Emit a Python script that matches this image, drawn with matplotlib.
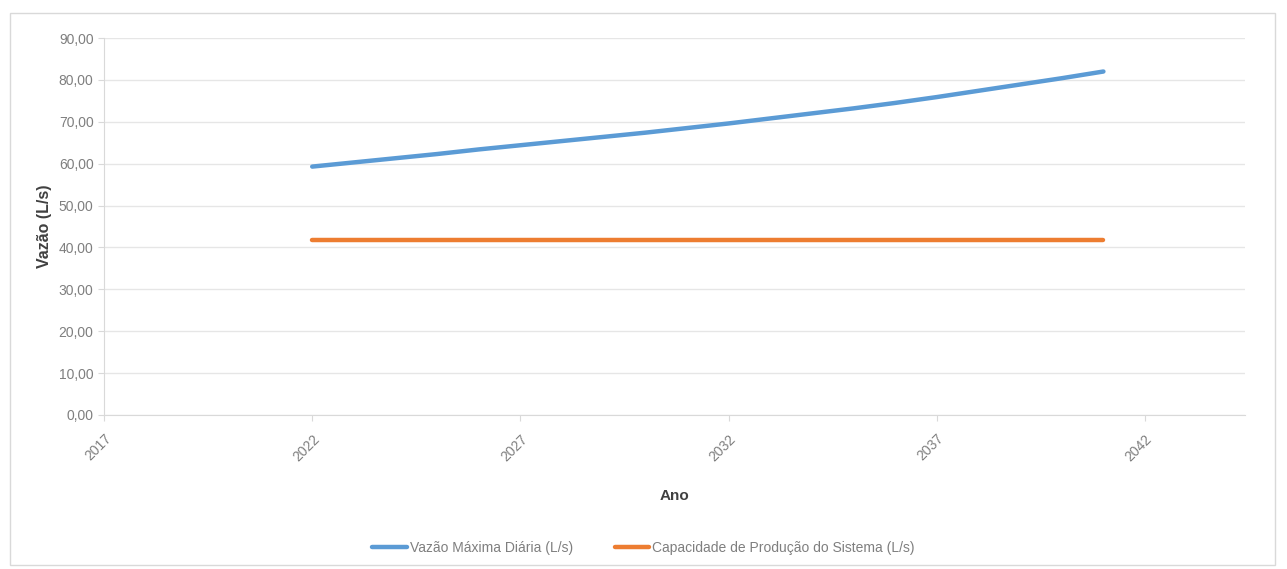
import matplotlib.pyplot as plt
from matplotlib.patches import Rectangle

plt.rcParams['font.family'] = ['Liberation Sans Narrow', 'Liberation Sans', 'DejaVu Sans']

anos = [2022, 2023, 2024, 2025, 2026, 2027, 2028, 2029, 2030, 2031,
        2032, 2033, 2034, 2035, 2036, 2037, 2038, 2039, 2040, 2041]
vazao_max = [59.3, 60.3, 61.3, 62.3, 63.4, 64.4, 65.4, 66.4, 67.4, 68.5,
             69.6, 70.8, 72.0, 73.2, 74.5, 75.9, 77.4, 78.9, 80.4, 82.0]
capacidade = [41.8] * len(anos)

x_ticks = [2017, 2022, 2027, 2032, 2037, 2042]
y_ticks = [0, 10, 20, 30, 40, 50, 60, 70, 80, 90]

fig = plt.figure(figsize=(12.87, 5.69), dpi=100)
ax = fig.add_axes([104/1287, 1 - 415/569, (1245-104)/1287, (415-38)/569])

# moldura do grafico
fig.patches.append(Rectangle((10/1287, 4/569), 1265/1287, 552/569,
                             transform=fig.transFigure, fill=False,
                             edgecolor='#d9d9d9', lw=1))

ax.plot(anos, vazao_max, color='#5b9bd5', lw=3.2, solid_capstyle='round',
        label='Vazão Máxima Diária (L/s)')
ax.plot(anos, capacidade, color='#ed7d31', lw=3.2, solid_capstyle='round',
        label='Capacidade de Produção do Sistema (L/s)')

ax.set_xlim(2017, 2044.4)
ax.set_ylim(0, 90)
ax.set_xticks(x_ticks)
ax.set_xticklabels([str(t) for t in x_ticks], rotation=45, ha='right',
                   rotation_mode='anchor', color='#7f7f7f', fontsize=10)
ax.set_yticks(y_ticks)
ax.set_yticklabels([f'{v:.2f}'.replace('.', ',') for v in y_ticks],
                   color='#7f7f7f', fontsize=10)
ax.grid(axis='y', color='#e6e6e6', lw=1)
ax.set_axisbelow(True)
for s in ['top', 'right']:
    ax.spines[s].set_visible(False)
for s in ['left', 'bottom']:
    ax.spines[s].set_color('#d9d9d9')
ax.tick_params(axis='both', color='#d9d9d9', length=4)
ax.tick_params(axis='x', pad=8)

ax.set_xlabel('Ano', color='#404040', fontsize=11, fontweight='bold', labelpad=18)
ax.set_ylabel('Vazão (L/s)', color='#404040', fontsize=11.5, fontweight='bold', labelpad=5)

fig.legend(loc='center', bbox_to_anchor=(0.5, 1 - 548/569), ncol=2, frameon=False,
           fontsize=10, labelcolor='#7f7f7f', handlelength=2.5, handletextpad=0.2,
           columnspacing=3)

fig.savefig('out.png', dpi=100)
